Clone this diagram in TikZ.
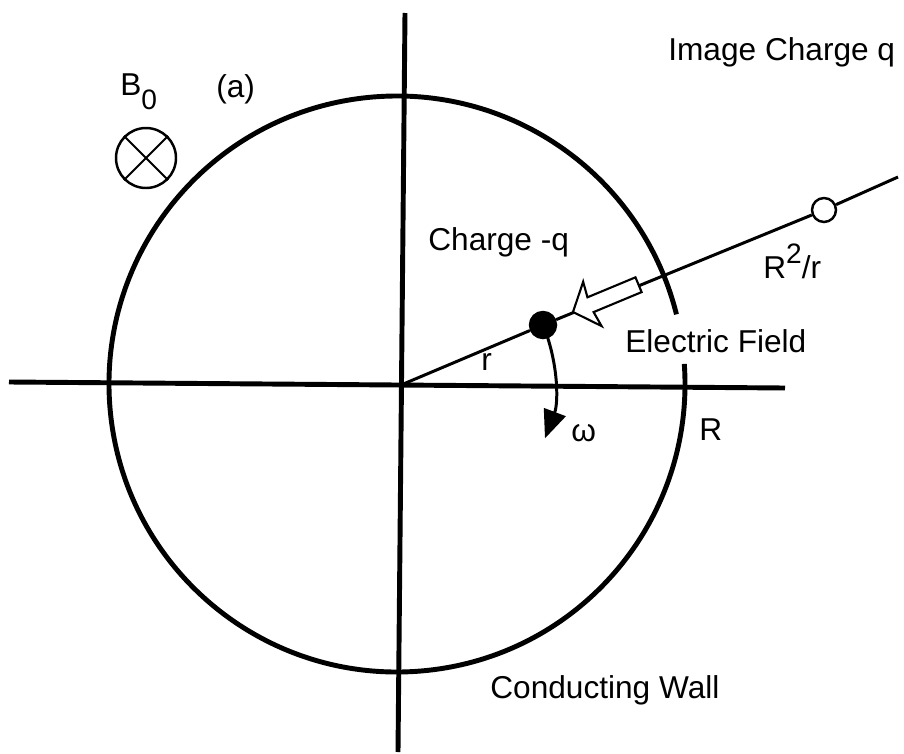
\documentclass[tikz,border=0pt]{standalone}
\usepackage{fontspec}
\setmainfont{Liberation Sans}
\usetikzlibrary{arrows.meta}

\begin{document}
\begin{tikzpicture}[
    x=0.02cm, y=-0.02cm,
    every node/.style={font=\fontsize{18}{20}\selectfont, inner sep=0pt},
    axis/.style={line width=2.8pt},
    wall/.style={line width=2.8pt},
    radial/.style={line width=1.7pt},
    thin line/.style={line width=1.2pt},
    point charge/.style={circle, draw, line width=1.4pt, minimum size=0.5cm},
    label text/.style={anchor=base west}
]
    \useasboundingbox (0,0) rectangle (904,754);

    \coordinate (O) at (401,385);
    \coordinate (C) at (397,384);
    \coordinate (top) at (405,13);
    \coordinate (bottom) at (398,752);
    \coordinate (left) at (9,382);
    \coordinate (right) at (785,388);
    \coordinate (rend) at (898,177);

    \draw [axis] (top) -- (bottom);
    \draw [axis] (left) -- (right);
    \draw [wall] (C) ++(-4:288) arc [start angle=-4, end angle=346, radius=288];

    \node [point charge, fill=black, minimum size=0.52cm] (charge) at (543,325) {};
    \node [point charge, fill=white, minimum size=0.48cm] (image) at (824,210) {};
    \draw [radial] (O) -- (charge) -- (image) -- (rend);

    \begin{scope}[shift={(573,312)}, rotate=22.6]
        \draw [thin line, fill=white, line join=miter]
            (0,0) -- (21,-24) -- (19,-8) -- (71,-8)
            -- (71,8) -- (19,8) -- (21,24) -- cycle;
    \end{scope}

    \draw [radial, -{Triangle[length=16pt,width=13pt]}]
        (charge.center) arc [start angle=-22.6, end angle=20.6, radius=154];

    \node [circle, draw, line width=1.4pt, minimum size=1.2cm] (bfield) at (146,158) {};
    \draw [thin line] (bfield.north west) -- (bfield.south east);
    \draw [thin line] (bfield.north east) -- (bfield.south west);

    \node [label text] (bzero) at (120,95) {B\raisebox{-8.5pt}{\fontsize{16}{16}\selectfont 0}};
    \node [label text] (figlabel) at (216,97) {(a)};
    \node [label text] (imagetext) at (668,60) {Image Charge q};
    \node [label text] (chargetext) at (428,250) {Charge -q};
    \node [label text] (disttext) at (763,278) {R\raisebox{8pt}{\fontsize{16}{16}\selectfont 2}/r};
    \node [label text] (fieldtext) at (625,352) {Electric Field};
    \node [label text] (rtext) at (481,370) {r};
    \node [label text] (omegatext) at (571,441) {ω};
    \node [label text] (radiustext) at (699,440) {R};
    \node [label text] (walltext) at (490,698) {Conducting Wall};
\end{tikzpicture}
\end{document}
